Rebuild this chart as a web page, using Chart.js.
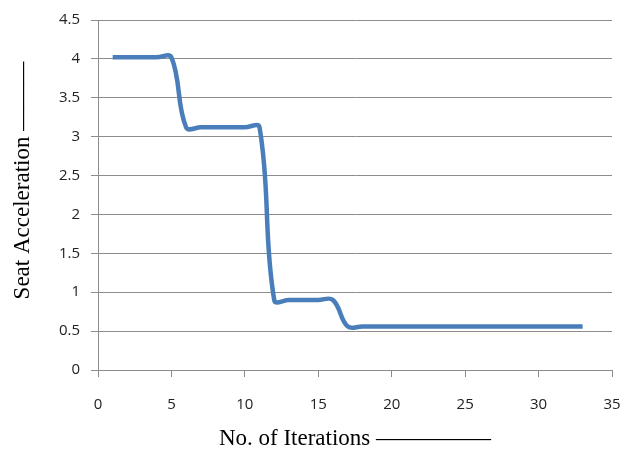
<!DOCTYPE html>
<html>
<head>
<meta charset="utf-8">
<script src="https://cdn.jsdelivr.net/npm/chart.js@4"></script>
<style>
  html, body { margin: 0; padding: 0; background: #fff; }
  #wrap { width: 623px; height: 453px; }
</style>
</head>
<body>
<div id="wrap"><canvas id="mycanvas" width="623" height="453"></canvas></div>
<script>
// values
const iterations = [1, 2, 3, 4, 5, 6, 7, 8, 9, 10, 11, 12, 13, 14, 15, 16, 17,
  18, 19, 20, 21, 22, 23, 24, 25, 26, 27, 28, 29, 30, 31, 32, 33];
const seatAcceleration = [4.02, 4.02, 4.02, 4.02, 4.02,
  3.12, 3.12, 3.12, 3.12, 3.12, 3.12,
  0.9, 0.9, 0.9, 0.9, 0.9,
  0.56, 0.56, 0.56, 0.56, 0.56, 0.56, 0.56, 0.56, 0.56, 0.56, 0.56, 0.56, 0.56, 0.56, 0.56, 0.56, 0.56];

const xTitle = 'No. of Iterations \u2014\u2014\u2014\u2014\u2014';
const yTitle = '\u00a0\u00a0\u00a0\u00a0\u00a0Seat Acceleration \u2014\u2014\u2014';

var points = [];
for (let i in iterations) {
  points.push({ x: iterations[i], y: seatAcceleration[i] });
}

var gridColor = '#8c8c8c';
var tickFont = { family: 'Open Sans', size: 15 };

const ctx = document.getElementById('mycanvas');
window.myChart = new Chart(ctx, {
  type: 'line',
  data: {
    datasets: [{
      label: 'Seat Acceleration',
      data: points,
      borderColor: '#4a7ebb',
      backgroundColor: '#4a7ebb',
      borderWidth: 4.5,
      pointRadius: 0,
      tension: 0.4,
      fill: false
    }]
  },
  options: {
    responsive: false,
    animation: false,
    layout: { padding: { top: 18, right: 0, bottom: 0, left: 0 } },
    plugins: {
      legend: { display: false },
      tooltip: { enabled: false }
    },
    scales: {
      x: {
        type: 'linear',
        min: 0,
        max: 35,
        ticks: { stepSize: 5, color: '#222', font: tickFont, padding: 19, maxRotation: 0 },
        grid: { drawOnChartArea: false, drawTicks: true, tickLength: 7, color: gridColor },
        border: { display: true, color: gridColor },
        title: {
          display: true,
          text: xTitle,
          color: '#000',
          font: { family: 'Liberation Serif', size: 23 },
          padding: { top: 0, bottom: 0 }
        },
        afterFit: function (scale) {
          scale.height = 83;
          scale.paddingLeft = 0;
          scale.paddingRight = 11;
        }
      },
      y: {
        min: 0,
        max: 4.5,
        ticks: {
          stepSize: 0.5, color: '#222', font: tickFont, padding: 11,
          callback: function (value) { return String(value); }
        },
        grid: { drawOnChartArea: true, drawTicks: true, tickLength: 7, color: gridColor },
        border: { display: true, color: gridColor },
        title: {
          display: true,
          text: yTitle,
          color: '#000',
          font: { family: 'Liberation Serif', size: 23 },
          padding: { top: 9, bottom: 0 }
        },
        afterFit: function (scale) { scale.width = 98; }
      }
    }
  }
});
</script>
</body>
</html>
